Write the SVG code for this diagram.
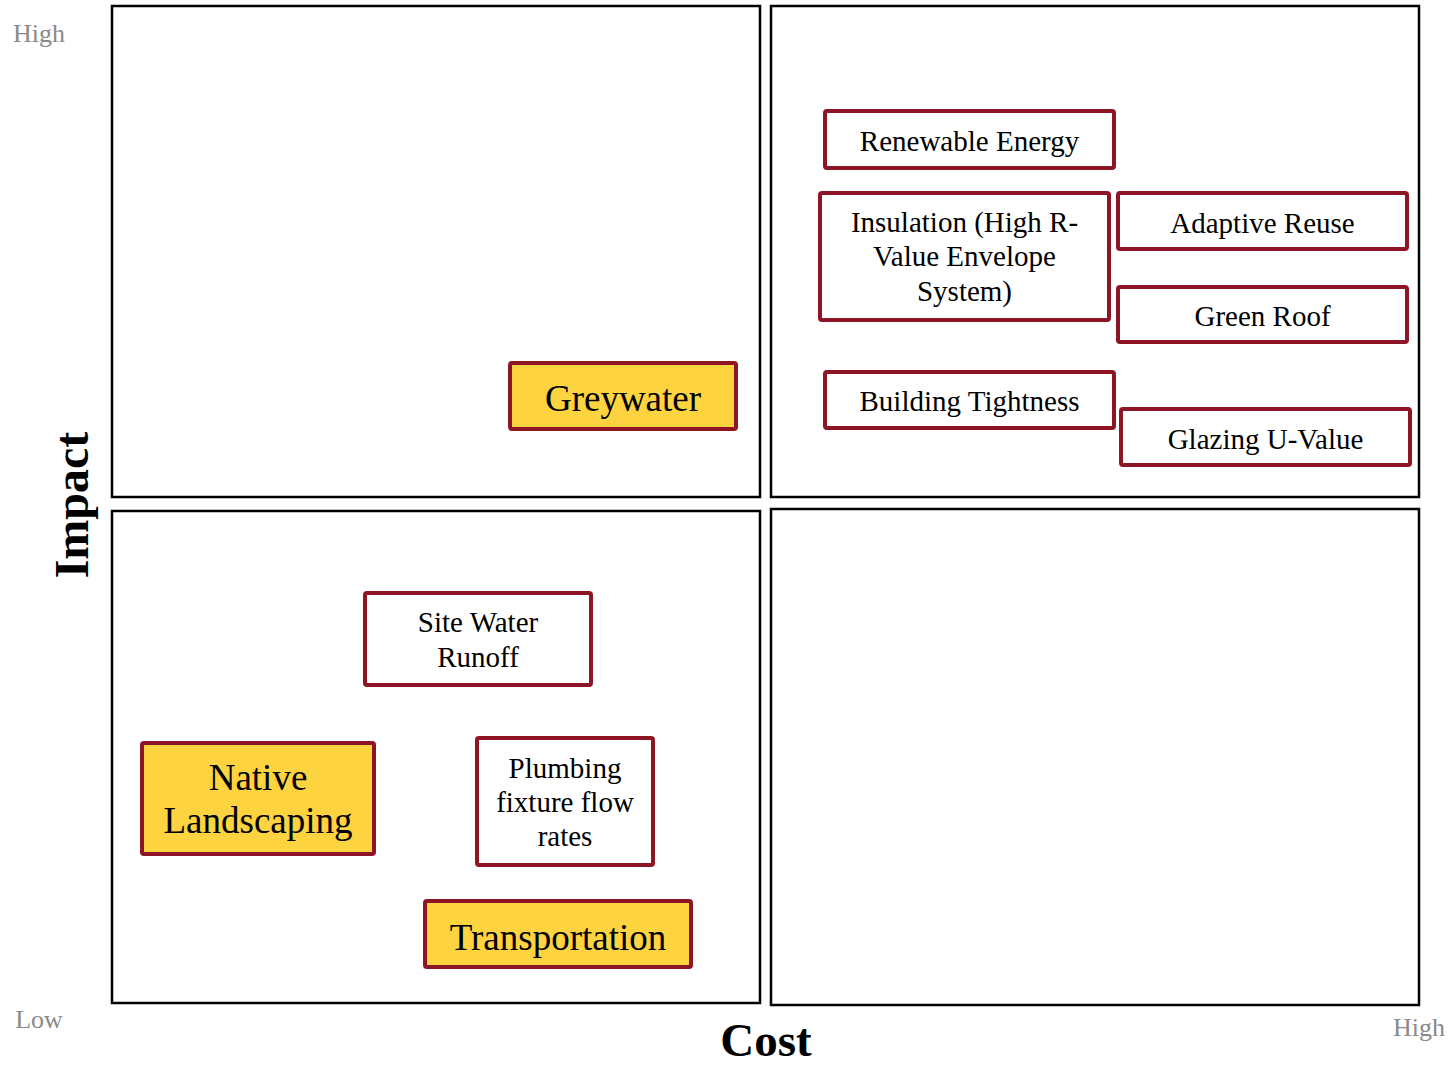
<svg xmlns="http://www.w3.org/2000/svg" width="1451" height="1067" viewBox="0 0 1451 1067">
<style>
.q{fill:#fff;stroke:#000;stroke-width:2.5}
.b{fill:#fff;stroke:#8E1526;stroke-width:4}
.y{fill:#FDD33F;stroke:#8E1526;stroke-width:4}
text{font-family:"Liberation Serif","Times New Roman",serif;fill:#000;text-anchor:middle}
.t{font-size:29px}
.ty{font-size:37px}
.ax{font-size:26px;fill:#8a8a8a}
.big{font-size:48px;font-weight:bold}
</style>
<rect width="1451" height="1067" fill="#fff"/>
<g id="quadrants">
<rect class="q" x="112" y="6" width="648" height="491"/>
<rect class="q" x="771" y="6" width="648" height="491"/>
<rect class="q" x="112" y="511" width="648" height="492"/>
<rect class="q" x="771" y="509" width="648" height="496"/>
</g>
<g id="axis-labels">
<text class="ax" x="39" y="42">High</text>
<text class="ax" x="39" y="1028">Low</text>
<text class="ax" x="1419" y="1036">High</text>
<text class="big" x="766" y="1056" style="font-size:47px">Cost</text>
<text class="big" transform="translate(88,505) rotate(-90)">Impact</text>
</g>
<g id="connectors"></g>
<g id="renewable-energy"><rect class="b" x="825" y="111" width="289" height="57" rx="2"/><text class="t" x="969.5" y="151">Renewable Energy</text></g>
<g id="insulation"><rect class="b" x="820" y="193" width="289" height="127" rx="2"/><text class="t" x="964.5" y="232">Insulation (High R-</text><text class="t" x="964.5" y="266">Value Envelope</text><text class="t" x="964.5" y="301">System)</text></g>
<g id="adaptive-reuse"><rect class="b" x="1118" y="193" width="289" height="56" rx="2"/><text class="t" x="1262.5" y="233">Adaptive Reuse</text></g>
<g id="green-roof"><rect class="b" x="1118" y="287" width="289" height="55" rx="2"/><text class="t" x="1262.5" y="326">Green Roof</text></g>
<g id="building-tightness"><rect class="b" x="825" y="372" width="289" height="56" rx="2"/><text class="t" x="969.5" y="411">Building Tightness</text></g>
<g id="glazing-u-value"><rect class="b" x="1121" y="409" width="289" height="56" rx="2"/><text class="t" x="1265.5" y="449">Glazing U-Value</text></g>
<g id="greywater"><rect class="y" x="510" y="363" width="226" height="66" rx="2"/><text class="ty" x="623" y="411">Greywater</text></g>
<g id="site-water-runoff"><rect class="b" x="365" y="593" width="226" height="92" rx="2"/><text class="t" x="478" y="632">Site Water</text><text class="t" x="478" y="667">Runoff</text></g>
<g id="native-landscaping"><rect class="y" x="142" y="743" width="232" height="111" rx="2"/><text class="ty" x="258" y="790">Native</text><text class="ty" x="258" y="833">Landscaping</text></g>
<g id="plumbing"><rect class="b" x="477" y="738" width="176" height="127" rx="2"/><text class="t" x="565" y="778">Plumbing</text><text class="t" x="565" y="812">fixture flow</text><text class="t" x="565" y="846">rates</text></g>
<g id="transportation"><rect class="y" x="425" y="901" width="266" height="66" rx="2"/><text class="ty" x="558" y="950">Transportation</text></g>
</svg>
